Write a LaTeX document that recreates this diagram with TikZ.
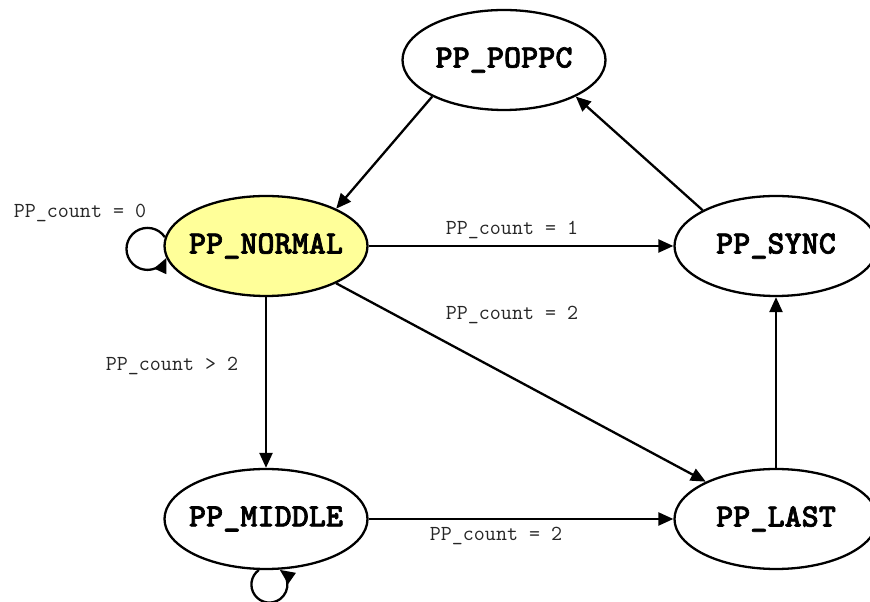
\documentclass[tikz,border=0pt]{standalone}
\usepackage{fontspec}
\newfontfamily\statefont{lmmonolt10-bold.otf}[FakeBold=2]
\usetikzlibrary{shapes.geometric,arrows.meta}
\definecolor{normalfill}{HTML}{FFFF99}
\begin{document}
\begin{tikzpicture}[x=1pt,y=1pt,
  state/.style={ellipse,draw=black,line width=2.3pt,minimum width=203pt,minimum height=100pt,inner sep=0pt,
    font=\statefont\fontsize{32.6}{34}\selectfont},
  lbl/.style={font=\ttfamily\fontsize{21.4}{22}\selectfont,text=black!85,inner sep=0pt},
  conn/.style={draw=black,line width=2.3pt,-{Triangle[length=15pt,width=13pt]}}]
\useasboundingbox (0,0) rectangle (870,602);
\node[state] (poppc) at (504,542) {\makebox[0pt]{PP\_POPPC}};
\node[state,fill=normalfill] (normal) at (266,356) {\makebox[0pt]{PP\_NORMAL}};
\node[state] (sync) at (776,356) {\makebox[0pt]{PP\_SYNC}};
\node[state] (middle) at (266,83) {\makebox[0pt]{PP\_MIDDLE}};
\node[state] (last) at (776,83) {\makebox[0pt]{PP\_LAST}};
\node[lbl] (l0) at (80,389) {PP\_count = 0};
\node[lbl] (l1) at (512,372) {PP\_count = 1};
\node[lbl] (l2a) at (512,287) {PP\_count = 2};
\node[lbl] (l3) at (172,236) {PP\_count > 2};
\node[lbl] (l2b) at (496,66) {PP\_count = 2};
\draw[conn] (poppc.207) -- (normal.28);
\draw[conn] (sync.154) -- (poppc.333);
\draw[conn] (normal.east) -- (sync.west);
\draw[conn] (normal.332) -- (last.152.5);
\draw[conn] (normal.south) -- (middle.north);
\draw[conn] (middle.east) -- (last.west);
\draw[conn] (last.north) -- (sync.south);
\draw[conn] (normal.175) arc[start angle=34,end angle=335,radius=21];
\draw[conn] (middle.262) arc[start angle=126,end angle=415,radius=18];
\end{tikzpicture}
\end{document}
